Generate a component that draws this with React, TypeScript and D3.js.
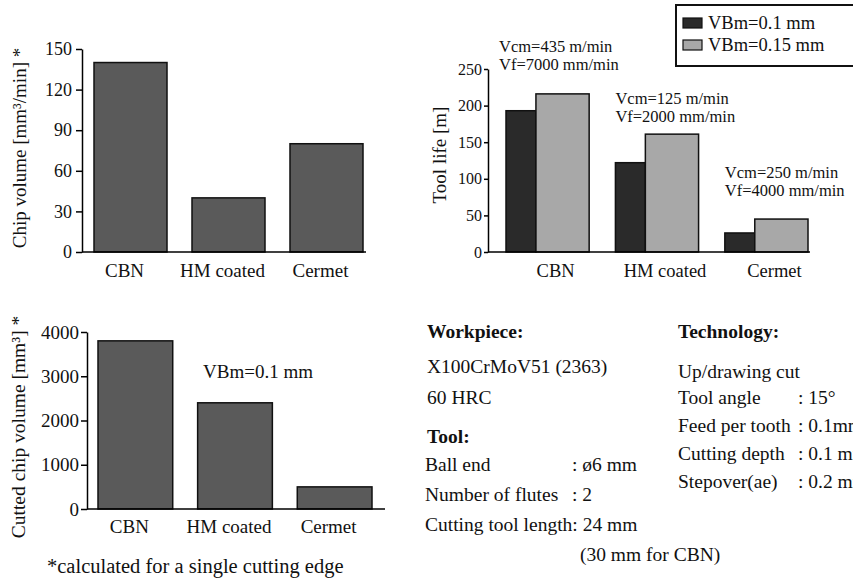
import * as d3 from "d3";
import { useEffect, useRef } from "react";

const FONT = "'Liberation Serif', 'Times New Roman', serif";

const categories = ["CBN", "HM coated", "Cermet"];

// chip volume per minute [mm³/min], one cutting edge
const chipVolume = [140, 40, 80];
const chipVolumeTicks = [0, 30, 60, 90, 120, 150];

// tool life [m] for two wear criteria
const toolLifeSeries = ["VBm=0.1 mm", "VBm=0.15 mm"];
const toolLife01 = [193, 122, 26];
const toolLife015 = [216, 161, 45];
const toolLifeTicks = [0, 50, 100, 150, 200, 250];
const cuttingSpeed = ["Vcm=435 m/min", "Vcm=125 m/min", "Vcm=250 m/min"];
const feedSpeed = ["Vf=7000 mm/min", "Vf=2000 mm/min", "Vf=4000 mm/min"];
const noteLevel = [273, 202, 101]; // where the speed notes sit, in tool life units

// cutted chip volume [mm³] at VBm=0.1 mm
const cuttedVolume = [3800, 2400, 500];
const cuttedVolumeTicks = [0, 1000, 2000, 3000, 4000];

// test conditions
const workpiece = ["X100CrMoV51 (2363)", "60 HRC"];
const toolRows = [["Ball end", ": ø6 mm"], ["Number of flutes", ": 2"], ["Cutting tool length: 24 mm", ""]];
const techRows = [["Tool angle", ": 15°"], ["Feed per tooth", ": 0.1mm"], ["Cutting depth", ": 0.1 mm"], ["Stepover(ae)", ": 0.2 mm"]];

const BAR = "#5a5a5a";
const DARK = "#2a2a2a";
const LIGHT = "#a8a8a8";

const addText = (g, x, y, s, size, opts = {}) =>
  g.append("text")
    .attr("x", x).attr("y", y)
    .attr("font-family", FONT)
    .attr("font-size", size)
    .attr("font-weight", opts.bold ? "bold" : "normal")
    .attr("text-anchor", opts.anchor || "start")
    .attr("fill", "#111")
    .text(s);

const yLabel = (g, x, y, s, size) =>
  g.append("text")
    .attr("transform", `translate(${x},${y}) rotate(-90)`)
    .attr("font-family", FONT)
    .attr("font-size", size)
    .attr("text-anchor", "middle")
    .attr("fill", "#111")
    .text(s);

const drawAxis = (g, scale, ticks, x, size, tickLen, pad) => {
  const ax = g.append("g").attr("transform", `translate(${x},0)`)
    .call(d3.axisLeft(scale).tickValues(ticks).tickFormat(d3.format("d"))
      .tickSize(tickLen).tickSizeOuter(0).tickPadding(pad));
  ax.attr("font-family", FONT).attr("font-size", size);
  ax.select(".domain").attr("stroke", "#000").attr("stroke-width", 1.5);
  ax.selectAll(".tick line").attr("stroke", "#000").attr("stroke-width", 1.5);
  ax.selectAll(".tick text").attr("fill", "#111");
};

const redraw = (ref) => {
  const svg = d3.select(ref.current);
  svg.selectAll("*").remove();

  // --- chip volume chart
  const g1 = svg.append("g");
  const x1 = d3.scaleBand().domain(categories).range([94, 363]).paddingInner(0.255).paddingOuter(0);
  const y1 = d3.scaleLinear().domain([0, 150]).range([252, 49]);
  g1.selectAll("rect").data(chipVolume).join("rect")
    .attr("x", (d, i) => x1(categories[i]))
    .attr("y", d => y1(d))
    .attr("width", x1.bandwidth())
    .attr("height", d => y1(0) - y1(d))
    .attr("fill", BAR).attr("stroke", "#111").attr("stroke-width", 1.5);
  g1.append("line").attr("x1", 82).attr("x2", 366).attr("y1", y1(0)).attr("y2", y1(0))
    .attr("stroke", "#000").attr("stroke-width", 1.5);
  drawAxis(g1, y1, chipVolumeTicks, 82, 18, 6, 4);
  categories.forEach(c => addText(g1, x1(c) + x1.bandwidth() / 2 - 6, 277, c, 19, { anchor: "middle" }));
  yLabel(g1, 26, 148, "Chip volume [mm³/min] *", 19);

  // --- tool life chart
  const g2 = svg.append("g");
  const x2 = d3.scaleBand().domain(categories).range([506, 808]).paddingInner(0.24).paddingOuter(0);
  const split = 0.36;
  const y2 = d3.scaleLinear().domain([0, 250]).range([252, 69]);
  const series = [toolLife01, toolLife015];
  series.forEach((vals, si) => {
    g2.append("g").selectAll("rect").data(vals).join("rect")
      .attr("x", (d, i) => x2(categories[i]) + (si === 0 ? 0 : x2.bandwidth() * split))
      .attr("y", d => y2(d))
      .attr("width", x2.bandwidth() * (si === 0 ? split : 1 - split))
      .attr("height", d => y2(0) - y2(d))
      .attr("fill", si === 0 ? DARK : LIGHT).attr("stroke", "#111").attr("stroke-width", 1.5);
  });
  g2.append("line").attr("x1", 488).attr("x2", 810).attr("y1", y2(0)).attr("y2", y2(0))
    .attr("stroke", "#000").attr("stroke-width", 1.5);
  drawAxis(g2, y2, toolLifeTicks, 488, 16, 4, 2);
  categories.forEach(c => addText(g2, x2(c) + x2.bandwidth() / 2 + 8, 277, c, 18.5, { anchor: "middle" }));
  yLabel(g2, 446, 155, "Tool life [m]", 19);
  categories.forEach((c, i) => {
    const x = x2(c) - (i === 0 ? 7 : 0);
    addText(g2, x, y2(noteLevel[i]), cuttingSpeed[i], 16.5);
    addText(g2, x, y2(noteLevel[i]) + 18, feedSpeed[i], 16.5);
  });

  // legend
  const lg = svg.append("g");
  lg.append("rect").attr("x", 676).attr("y", 5).attr("width", 200).attr("height", 61)
    .attr("fill", "#fff").attr("stroke", "#111").attr("stroke-width", 2);
  toolLifeSeries.forEach((s, i) => {
    lg.append("rect").attr("x", 683).attr("y", 18 + i * 22).attr("width", 19).attr("height", 10)
      .attr("fill", i === 0 ? DARK : LIGHT).attr("stroke", "#111").attr("stroke-width", 1.2);
    addText(lg, 708, 29 + i * 22, s, 18.5);
  });

  // --- cutted chip volume chart
  const g3 = svg.append("g");
  const x3 = d3.scaleBand().domain(categories).range([98, 372]).paddingInner(0.25).paddingOuter(0);
  const y3 = d3.scaleLinear().domain([0, 4000]).range([509, 332]);
  g3.selectAll("rect").data(cuttedVolume).join("rect")
    .attr("x", (d, i) => x3(categories[i]))
    .attr("y", d => y3(d))
    .attr("width", x3.bandwidth())
    .attr("height", d => y3(0) - y3(d))
    .attr("fill", BAR).attr("stroke", "#111").attr("stroke-width", 1.5);
  g3.append("line").attr("x1", 87).attr("x2", 385).attr("y1", y3(0)).attr("y2", y3(0))
    .attr("stroke", "#000").attr("stroke-width", 1.5);
  drawAxis(g3, y3, cuttedVolumeTicks, 87, 19, 6, 2);
  categories.forEach(c => addText(g3, x3(c) + x3.bandwidth() / 2 - 6, 533, c, 19, { anchor: "middle" }));
  yLabel(g3, 25, 427, "Cutted chip volume [mm³] *", 19.5);
  addText(g3, 203, 378, "VBm=0.1 mm", 19);
  addText(g3, 47, 573, "*calculated for a single cutting edge", 20.5);

  // --- test conditions
  const info = svg.append("g");
  const fs = 19.5;
  addText(info, 427, 338, "Workpiece:", fs, { bold: true });
  workpiece.forEach((s, i) => addText(info, 427, 373 + i * 31, s, fs));
  addText(info, 427, 443, "Tool:", fs, { bold: true });
  toolRows.forEach(([k, v], i) => {
    addText(info, 425, 471 + i * 30, k, fs);
    if (v) addText(info, 572, 471 + i * 30, v, fs);
  });
  addText(info, 580, 561, "(30 mm for CBN)", fs);

  addText(info, 678, 338, "Technology:", fs, { bold: true });
  addText(info, 678, 378, "Up/drawing cut", fs);
  techRows.forEach(([k, v], i) => {
    addText(info, 678, 404 + i * 28, k, fs);
    addText(info, 798, 404 + i * 28, v, fs);
  });
};

export default function App() {
  const ref = useRef(null);
  useEffect(() => {
    redraw(ref);
  }, []);
  return (
    <svg ref={ref} width={853} height={578}
      style={{ position: "absolute", left: 0, top: 0, background: "#fff" }} />
  );
}
